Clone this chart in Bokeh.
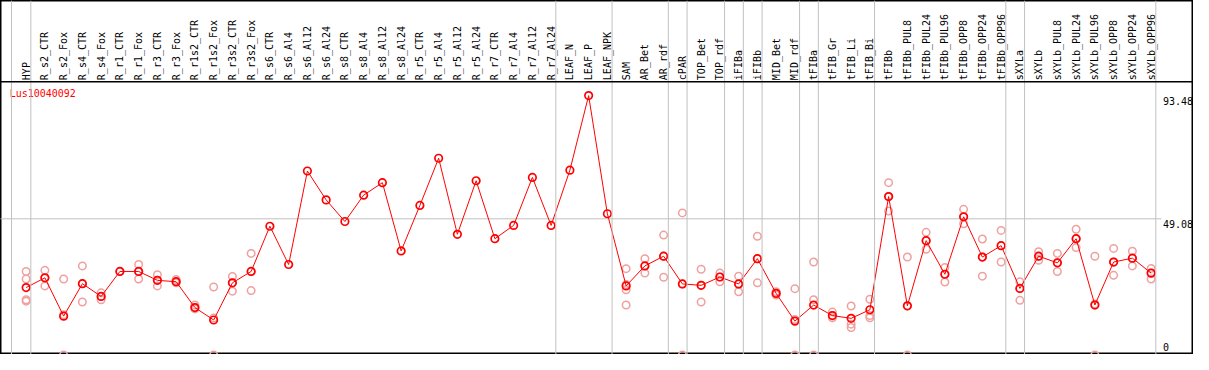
import math
from bokeh.plotting import figure
from bokeh.models import Range1d, Span
from bokeh.core.properties import value
from bokeh.embed import file_html
from bokeh.resources import INLINE

gene = "Lus10040092"

categories = ["HYP", "R_s2_CTR", "R_s2_Fox", "R_s4_CTR", "R_s4_Fox", "R_r1_CTR", "R_r1_Fox",
              "R_r3_CTR", "R_r3_Fox", "R_r1s2_CTR", "R_r1s2_Fox", "R_r3s2_CTR", "R_r3s2_Fox",
              "R_s6_CTR", "R_s6_Al4", "R_s6_Al12", "R_s6_Al24", "R_s8_CTR", "R_s8_Al4",
              "R_s8_Al12", "R_s8_Al24", "R_r5_CTR", "R_r5_Al4", "R_r5_Al12", "R_r5_Al24",
              "R_r7_CTR", "R_r7_Al4", "R_r7_Al12", "R_r7_Al24", "LEAF_N", "LEAF_P", "LEAF_NPK",
              "SAM", "AR_Bet", "AR_rdf", "cPAR", "TOP_Bet", "TOP_rdf", "iFIBa", "iFIBb",
              "MID_Bet", "MID_rdf", "tFIBa", "tFIB_Gr", "tFIB_Li", "tFIB_Bi", "tFIBb",
              "tFIBb_PUL8", "tFIBb_PUL24", "tFIBb_PUL96", "tFIBb_OPP8", "tFIBb_OPP24",
              "tFIBb_OPP96", "sXYLa", "sXYLb", "sXYLb_PUL8", "sXYLb_PUL24", "sXYLb_PUL96",
              "sXYLb_OPP8", "sXYLb_OPP24", "sXYLb_OPP96"]

means = [24.3, 27.8, 14.0, 25.7, 21.1, 30.1, 30.1, 26.9, 26.4, 17.1, 12.6, 26.0, 30.1,
         46.4, 32.6, 66.3, 55.9, 48.1, 57.6, 62.1, 37.5, 53.9, 70.9, 43.5, 62.8, 41.9,
         46.7, 64.0, 46.7, 66.6, 93.48, 50.9, 24.9, 32.1, 35.6, 25.6, 25.1, 28.1, 25.6,
         34.7, 22.2, 12.2, 18.0, 14.2, 13.2, 16.3, 57.1, 17.7, 41.2, 29.1, 49.8, 35.3,
         39.4, 24.0, 35.6, 33.2, 41.9, 18.0, 33.5, 34.9, 29.5]

replicates = [
    [30.1, 27.4, 19.9, 19.4], [30.5, 27.8, 24.9], [27.4, 14.5, 0], [32.1, 25.7, 19.1],
    [22.4, 21.1, 19.9], [30.1], [32.6, 30.1, 27.4], [28.9, 26.9, 24.9], [27.2, 26.4, 26.0],
    [18.0, 17.1, 16.6], [24.5, 13.3, 0], [28.3, 26.0, 23.0], [36.6, 30.1, 23.2],
    [], [], [], [], [], [], [], [], [], [], [], [], [], [], [], [], [], [], [],
    [31.1, 25.4, 23.5, 18.0], [34.7, 32.1, 29.5], [43.2, 35.6, 28.0], [51.2, 25.6, 0],
    [30.9, 25.1, 19.1], [29.5, 28.1, 26.4], [28.4, 25.6, 22.8], [42.8, 34.7, 26.0],
    [22.8, 22.2, 21.6], [23.9, 12.8, 0], [33.5, 19.9, 0], [15.45, 14.2, 13.4],
    [17.65, 11.1, 9.9], [20.1, 14.2, 13.4], [62.1, 57.1, 51.9], [35.3, 17.65, 0],
    [44.2, 41.2, 38.1], [31.55, 29.1, 26.3], [52.5, 49.8, 47.3], [41.8, 35.3, 28.4],
    [44.9, 39.4, 33.5], [26.4, 24.0, 19.7], [37.2, 35.6, 34.1], [36.6, 33.2, 30.1],
    [45.3, 41.9, 38.7], [35.6, 18.4, 0], [38.4, 33.5, 28.7], [37.4, 34.9, 32.1],
    [31.2, 29.5, 27.4],
]

# last category index of each group (separator lines drawn after them)
group_ends = [0, 28, 31, 34, 35, 37, 38, 39, 41, 42, 45, 52, 53, 60]

tick_values = [93.48, 49.08, 0]
tick_labels = ["93.48", "49.08", "0"]
grid_value = 49.08

W, H = 1193, 354
FONT = value("DejaVu Sans Mono")

x_idx = list(range(len(categories)))

p = figure(width=W, height=H, output_backend="svg", toolbar_location=None,
           x_range=Range1d(-1.368, 62.26), y_range=Range1d(0.17, 127.76),
           x_axis_location=None, y_axis_location=None, min_border=0,
           background_fill_color="white", border_fill_color="white",
           outline_line_color="black", outline_line_width=2)
p.grid.visible = False

gray = "#c0c0c0"
# group separators
p.add_layout(Span(location=-0.78, dimension="height", line_color=gray, line_width=1))
for g in group_ends:
    p.add_layout(Span(location=g + 0.25, dimension="height", line_color=gray, line_width=1))

# horizontal grid line at mean level
p.segment(x0=[-1.4], y0=[grid_value], x1=[60.55], y1=[grid_value], line_color=gray, line_width=1)

# header separator
header_y = 98.45
p.add_layout(Span(location=header_y, dimension="width", line_color="black", line_width=1.5))

# category labels (rotated)
p.text(x=x_idx, y=[header_y + 0.6] * len(categories), text=categories, angle=math.pi / 2,
       text_align="left", text_baseline="middle", text_font=FONT, text_font_size="10px",
       text_color="black")

# replicates
rx, ry = [], []
for i, reps in enumerate(replicates):
    for r in reps:
        rx.append(i)
        ry.append(r)
p.scatter(rx, ry, marker="circle", size=7.5, fill_color=None, line_color="#f0a0a0",
          line_width=1.5)

# mean line and markers
p.line(x_idx, means, line_color="red", line_width=1)
p.scatter(x_idx, means, marker="circle", size=7.5, fill_color=None, line_color="red",
          line_width=1.7)

# value labels on the right
for v, t in zip(tick_values, tick_labels):
    if v <= 0:
        p.text(x=[60.63], y=[v + 1.4], text=[t], text_align="left", text_baseline="bottom",
               text_font=FONT, text_font_size="10px", text_color="black")
    else:
        p.text(x=[60.63], y=[v - 0.5], text=[t], text_align="left", text_baseline="top",
               text_font=FONT, text_font_size="10px", text_color="black")

# gene name
p.text(x=[-0.88], y=[94.2], text=[gene], text_align="left", text_baseline="middle",
       text_font=FONT, text_font_size="10px", text_color="red")

open("out.html", "w").write(file_html(p, INLINE))
